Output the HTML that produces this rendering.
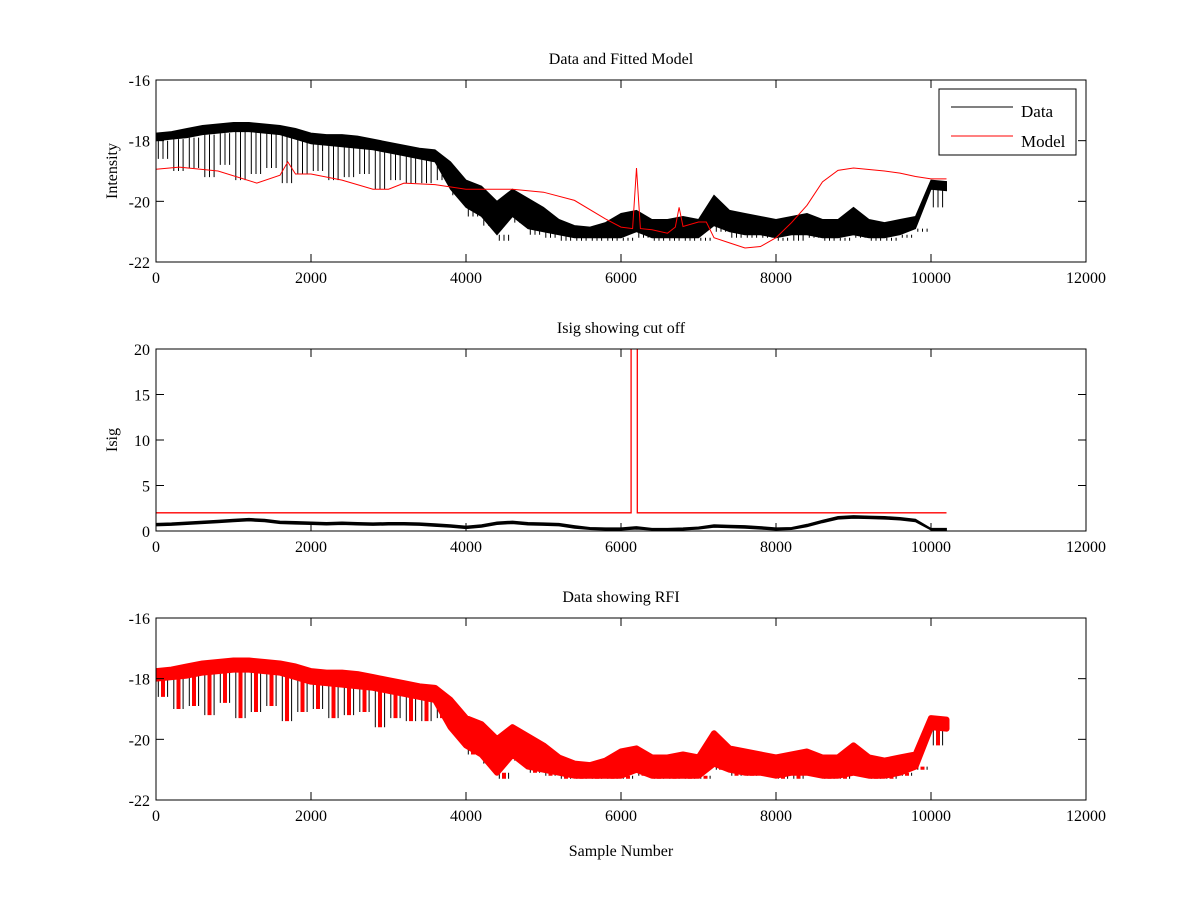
<!DOCTYPE html>
<html><head><meta charset="utf-8"><style>
body{margin:0;background:#fff;}
svg{display:block;font-family:"Liberation Serif",serif;}
</style></head><body>
<svg id="fig" width="1200" height="900" xmlns="http://www.w3.org/2000/svg"></svg>
<script>
const sampleX=[0,200,400,600,800,1000,1200,1400,1600,1800,2000,2200,2400,2600,2800,3000,3200,3400,3600,3800,4000,4200,4400,4600,4800,5000,5200,5400,5600,5800,6000,6200,6400,6600,6800,7000,7200,7400,7600,7800,8000,8200,8400,8600,8800,9000,9200,9400,9600,9800,10000,10200];
const dataHi=[-17.75,-17.7,-17.6,-17.5,-17.45,-17.4,-17.4,-17.45,-17.5,-17.6,-17.75,-17.8,-17.8,-17.85,-17.95,-18.05,-18.15,-18.25,-18.3,-18.7,-19.3,-19.5,-20.0,-19.6,-19.9,-20.2,-20.6,-20.8,-20.85,-20.7,-20.4,-20.3,-20.6,-20.6,-20.5,-20.6,-19.8,-20.3,-20.4,-20.5,-20.6,-20.5,-20.4,-20.6,-20.6,-20.2,-20.6,-20.7,-20.6,-20.5,-19.3,-19.35];
const dataLo=[-18.0,-17.95,-17.9,-17.8,-17.75,-17.7,-17.7,-17.75,-17.8,-17.95,-18.1,-18.15,-18.2,-18.25,-18.3,-18.4,-18.5,-18.6,-18.7,-19.6,-20.2,-20.5,-21.1,-20.5,-20.9,-21.0,-21.1,-21.2,-21.2,-21.2,-21.2,-21.0,-21.2,-21.2,-21.2,-21.2,-20.8,-21.0,-21.1,-21.1,-21.2,-21.1,-21.1,-21.2,-21.2,-21.1,-21.2,-21.2,-21.1,-20.9,-19.6,-19.65];
const dataDip=[-18.6,-19.0,-18.9,-19.2,-18.8,-19.3,-19.1,-18.9,-19.4,-19.1,-19.0,-19.3,-19.2,-19.1,-19.6,-19.3,-19.4,-19.4,-19.3,-19.8,-20.5,-20.8,-21.3,-20.7,-21.1,-21.2,-21.3,-21.3,-21.3,-21.3,-21.3,-21.2,-21.3,-21.3,-21.3,-21.3,-21.0,-21.2,-21.2,-21.2,-21.3,-21.3,-21.2,-21.3,-21.3,-21.2,-21.3,-21.3,-21.2,-21.0,-20.2,-20.1];
const modelX=[0,300,800,1300,1600,1700,1800,2000,2400,2800,3000,3200,3600,4000,4600,5000,5400,5800,6000,6150,6200,6250,6400,6600,6700,6750,6800,7000,7100,7200,7400,7600,7800,8000,8200,8400,8600,8800,9000,9200,9400,9600,9800,10000,10200];
const modelY=[-18.94,-18.87,-19.0,-19.4,-19.14,-18.7,-19.1,-19.1,-19.3,-19.6,-19.6,-19.4,-19.45,-19.6,-19.6,-19.7,-19.97,-20.58,-20.85,-20.9,-18.9,-20.9,-20.94,-21.05,-20.85,-20.2,-20.83,-20.68,-20.68,-21.2,-21.37,-21.54,-21.49,-21.2,-20.7,-20.13,-19.36,-18.98,-18.9,-18.95,-19.0,-19.07,-19.18,-19.26,-19.26];
const isigHi=[0.85,0.9,1.0,1.1,1.2,1.3,1.4,1.3,1.1,1.05,1.0,0.95,1.0,0.95,0.9,0.95,0.95,0.9,0.8,0.7,0.55,0.7,1.0,1.1,0.95,0.9,0.85,0.6,0.4,0.35,0.35,0.5,0.3,0.3,0.35,0.45,0.7,0.65,0.6,0.5,0.35,0.4,0.75,1.2,1.6,1.7,1.65,1.6,1.5,1.3,0.3,0.3];
const isigLo=[0.55,0.6,0.7,0.8,0.9,1.0,1.1,1.0,0.8,0.75,0.7,0.65,0.7,0.65,0.6,0.65,0.65,0.6,0.5,0.4,0.25,0.4,0.7,0.8,0.65,0.6,0.55,0.3,0.15,0.1,0.1,0.2,0.1,0.1,0.1,0.2,0.4,0.35,0.3,0.2,0.1,0.15,0.45,0.9,1.3,1.4,1.35,1.3,1.2,1.0,0.1,0.1];
const cutX=[0,6130,6130,6210,6210,10200];
const cutY=[2,2,25,25,2,2];
const xTicks=[0,2000,4000,6000,8000,10000,12000];
const yTicksA=[-22,-20,-18,-16];
const yTicksB=[0,5,10,15,20];

const NS="http://www.w3.org/2000/svg";
const svg=document.getElementById('fig');
function el(tag,attrs,parent){const e=document.createElementNS(NS,tag);for(const k in attrs)e.setAttribute(k,attrs[k]);(parent||svg).appendChild(e);return e;}
const L=156,R=1086;
const XMAX=sampleX[sampleX.length-1];
function xs(v){return L+(v/12000)*(R-L);}
function mkY(top,bot,lo,hi){return v=>bot-(v-lo)/(hi-lo)*(bot-top);}

function axes(name,top,bot,ys,yt,title,ylabel,xlabel){
  const g=el('g',{});
  
  
  const cid='clip-'+name;
  const cp=el('clipPath',{id:cid},g);el('rect',{x:L,y:top,width:R-L,height:bot-top},cp);
  const plot=el('g',{'clip-path':'url(#'+cid+')'},g);
  
  
  const frame=el('rect',{x:L,y:top,width:R-L,height:bot-top,fill:'none',stroke:'#000','stroke-width':1},g);
  
  
  xTicks.forEach(t=>{const x=xs(t);
    el('line',{x1:x,x2:x,y1:bot,y2:bot-8,stroke:'#000'},g);
    el('line',{x1:x,x2:x,y1:top,y2:top+8,stroke:'#000'},g);
    const tx=el('text',{x:x,y:bot+21,'text-anchor':'middle','font-size':16},g);tx.textContent=t;
    
    
  });
  yt.forEach(t=>{const y=ys(t);
    el('line',{x1:L,x2:L+8,y1:y,y2:y,stroke:'#000'},g);
    el('line',{x1:R,x2:R-8,y1:y,y2:y,stroke:'#000'},g);
    const tx=el('text',{x:L-6,y:y+6,'text-anchor':'end','font-size':16},g);tx.textContent=t;
    
    
  });
  const ti=el('text',{x:(L+R)/2,y:top-16,'text-anchor':'middle','font-size':16},g);ti.textContent=title;
  
  
  const yl=el('text',{x:0,y:0,'text-anchor':'middle','font-size':16,transform:'translate('+(L-39)+','+((top+bot)/2)+') rotate(-90)'},g);yl.textContent=ylabel;
  
  
  if(xlabel){const xl=el('text',{x:(L+R)/2,y:bot+56,'text-anchor':'middle','font-size':16},g);xl.textContent=xlabel;
    
    }
  return plot;
}
function bandPath(ys,hi,lo){
  let d='';
  sampleX.forEach((s,i)=>{d+=(i?'L':'M')+xs(s).toFixed(1)+','+ys(hi[i]).toFixed(1);});
  for(let i=sampleX.length-1;i>=0;i--)d+='L'+xs(sampleX[i]).toFixed(1)+','+ys(lo[i]).toFixed(1);
  return d+'Z';
}
function dipPath(ys,lo,dip,offsets){
  let d='';
  sampleX.forEach((s,i)=>{offsets.forEach(o=>{if(s+o>XMAX)return;const x=xs(s+o);d+='M'+x.toFixed(1)+','+ys(lo[i]).toFixed(1)+'V'+ys(dip[i]).toFixed(1);});});
  return d;
}
// Panel 1
const yA=mkY(80,262,-22,-16);
const p1=axes('data-fitted-model-panel',80,262,yA,yTicksA,'Data and Fitted Model','Intensity');
const d1=el('path',{d:bandPath(yA,dataHi,dataLo),fill:'#000',stroke:'#000','stroke-width':1},p1);


const dd1=el('path',{d:dipPath(yA,dataLo,dataDip,[30,90,150]),stroke:'#000','stroke-width':1,fill:'none'},p1);


const m1=el('polyline',{points:modelX.map((s,i)=>xs(s).toFixed(1)+','+yA(modelY[i]).toFixed(1)).join(' '),fill:'none',stroke:'#f00','stroke-width':1},p1);


// legend
const lg=el('g',{});


el('rect',{x:939,y:89,width:137,height:66,fill:'#fff',stroke:'#000'},lg);
const le1=el('g',{},lg);


el('line',{x1:951,x2:1013,y1:107,y2:107,stroke:'#000'},le1);
const lt1=el('text',{x:1021,y:117,'font-size':17},le1);lt1.textContent='Data';
const le2=el('g',{},lg);


el('line',{x1:951,x2:1013,y1:136,y2:136,stroke:'#f00'},le2);
const lt2=el('text',{x:1021,y:147,'font-size':17},le2);lt2.textContent='Model';
// Panel 2
const yB=mkY(349,531,0,20);
const p2=axes('isig-panel',349,531,yB,yTicksB,'Isig showing cut off','Isig');
const d2=el('path',{d:bandPath(yB,isigHi,isigLo),fill:'#000',stroke:'#000','stroke-width':0.8},p2);


const c2=el('polyline',{points:cutX.map((s,i)=>xs(s).toFixed(1)+','+yB(cutY[i]).toFixed(1)).join(' '),fill:'none',stroke:'#f00','stroke-width':1.3},p2);


// Panel 3
const yC=mkY(618,800,-22,-16);
const p3=axes('rfi-panel',618,800,yC,yTicksA,'Data showing RFI','',"Sample Number");
const dd3=el('path',{d:dipPath(yC,dataLo,dataDip,[30,150]),stroke:'#000','stroke-width':1,fill:'none'},p3);


const dr3=el('path',{d:dipPath(yC,dataLo,dataDip,[90]),stroke:'#f00','stroke-width':4,fill:'none'},p3);


const d3=el('path',{d:bandPath(yC,dataHi,dataLo),fill:'#f00',stroke:'#f00','stroke-width':6,'stroke-linejoin':'round'},p3);


</script>
</body></html>
